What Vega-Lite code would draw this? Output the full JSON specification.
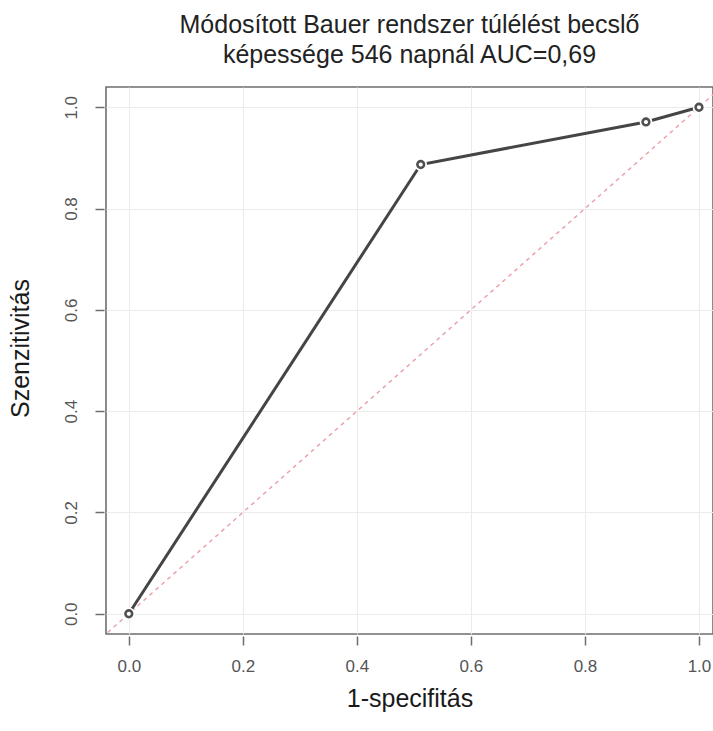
{
  "$schema": "https://vega.github.io/schema/vega-lite/v6.json",
  "autosize": {"type": "none"},
  "padding": {"left": 106, "top": 87, "right": 0, "bottom": 97},
  "width": 607,
  "height": 547,
  "background": "white",
  "config": {
    "view": {"stroke": "#6e6e6e", "strokeWidth": 1.6},
    "font": "Liberation Sans"
  },
  "title": {
    "text": ["Módosított Bauer rendszer túlélést becslő", "képessége 546 napnál AUC=0,69"],
    "font": "Liberation Sans",
    "fontSize": 25,
    "fontWeight": "normal",
    "color": "#222222",
    "lineHeight": 30,
    "offset": 19,
    "anchor": "middle"
  },
  "datasets": {
    "roc": [
      {"fpr": 0.0, "tpr": 0.0},
      {"fpr": 0.512, "tpr": 0.887},
      {"fpr": 0.907, "tpr": 0.971},
      {"fpr": 1.0, "tpr": 1.0}
    ],
    "diag": [
      {"fpr": -0.1, "tpr": -0.1},
      {"fpr": 1.1, "tpr": 1.1}
    ]
  },
  "encoding": {
    "x": {
      "field": "fpr", "type": "quantitative",
      "scale": {"domain": [-0.04, 1.0246], "nice": false, "zero": false},
      "axis": {
        "title": "1-specifitás", "titleFont": "Liberation Sans", "titleFontSize": 25, "titleFontWeight": "normal", "titleColor": "#1a1a1a", "titlePadding": 12,
        "values": [0, 0.2, 0.4, 0.6, 0.8, 1.0], "format": ".1f",
        "labelFont": "Liberation Sans", "labelFontSize": 17, "labelColor": "#555555", "labelPadding": 13,
        "domain": false, "offset": 2, "tickSize": 9, "tickColor": "#6e6e6e", "tickWidth": 1.5,
        "grid": true, "gridColor": "#ebebeb", "gridWidth": 1
      }
    },
    "y": {
      "field": "tpr", "type": "quantitative",
      "scale": {"domain": [-0.04, 1.04], "nice": false, "zero": false},
      "axis": {
        "title": "Szenzitivitás", "titleFont": "Liberation Sans", "titleFontSize": 25, "titleFontWeight": "normal", "titleColor": "#1a1a1a", "titlePadding": 29, "titleY": 261, "titleAlign": "center",
        "values": [0, 0.2, 0.4, 0.6, 0.8, 1.0], "format": ".1f",
        "labelFont": "Liberation Sans", "labelFontSize": 17, "labelColor": "#555555", "labelPadding": 15, "labelAngle": -90, "labelAlign": "center", "labelBaseline": "bottom",
        "domain": false, "offset": 2, "tickSize": 9, "tickColor": "#6e6e6e", "tickWidth": 1.5,
        "grid": true, "gridColor": "#ebebeb", "gridWidth": 1
      }
    }
  },
  "layer": [
    {
      "data": {"name": "diag"},
      "mark": {"type": "line", "clip": true, "color": "#eba3ab", "strokeDash": [4, 4], "strokeWidth": 1.5}
    },
    {
      "data": {"name": "roc"},
      "mark": {"type": "line", "color": "#454545", "strokeWidth": 3}
    },
    {
      "data": {"name": "roc"},
      "mark": {"type": "point", "shape": "circle", "filled": true, "color": "white", "size": 160, "opacity": 1}
    },
    {
      "data": {"name": "roc"},
      "mark": {"type": "point", "shape": "circle", "filled": false, "color": "#505050", "size": 45, "strokeWidth": 2.6, "opacity": 1}
    }
  ]
}
